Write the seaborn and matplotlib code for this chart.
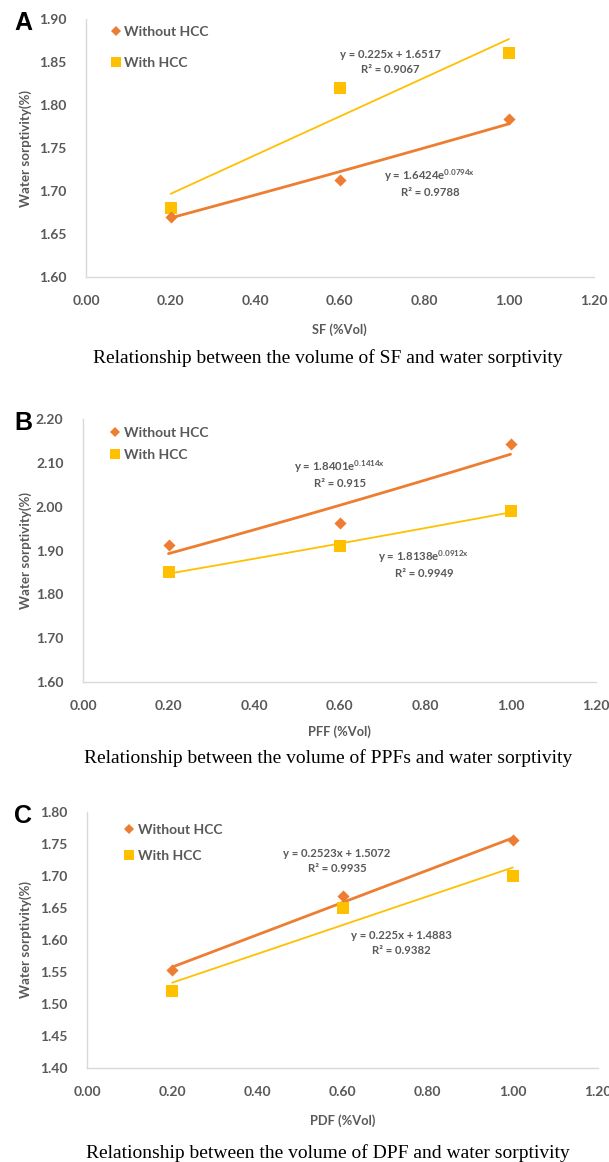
import numpy as np
import pandas as pd
import matplotlib
matplotlib.use("Agg")
import matplotlib.pyplot as plt
from matplotlib.lines import Line2D
import seaborn as sns

# ---- data -------------------------------------------------------------
fiber_vol = [0.20, 0.60, 1.00]

sf_without = [1.670, 1.713, 1.784]
sf_with = [1.680, 1.820, 1.860]

pff_without = [1.912, 1.963, 2.142]
pff_with = [1.850, 1.910, 1.990]

pdf_without = [1.553, 1.668, 1.756]
pdf_with = [1.520, 1.650, 1.700]

# trendline fits: (kind, a, b, r2) -> linear y = a*x + b, exponential y = a*exp(b*x)
sf_fit_without = ("exp", 1.6424, 0.0794, 0.9788)
sf_fit_with = ("lin", 0.225, 1.6517, 0.9067)
pff_fit_without = ("exp", 1.8401, 0.1414, 0.915)
pff_fit_with = ("exp", 1.8138, 0.0912, 0.9949)
pdf_fit_without = ("lin", 0.2523, 1.5072, 0.9935)
pdf_fit_with = ("lin", 0.225, 1.4883, 0.9382)

x_ticks = [0.00, 0.20, 0.40, 0.60, 0.80, 1.00, 1.20]
series_names = ["Without HCC", "With HCC"]
y_label = "Water sorptivity(%)"

# ---- style ------------------------------------------------------------
sns.set_style("white")
plt.rcParams["font.family"] = ["Lato", "DejaVu Sans"]
plt.rcParams["mathtext.default"] = "regular"

ORANGE = "#ED7D31"
GOLD = "#FFC000"
GRAY = "#595959"
SPINE = "#D9D9D9"

W, H = 609, 1162
fig = plt.figure(figsize=(W / 100, H / 100), dpi=100)


def fx(px):
    return px / W


def fy(py):
    return 1 - py / H


def fit_curve(fit, x):
    kind, a, b, _ = fit
    return a * np.exp(b * x) if kind == "exp" else a * x + b


def fit_label(fit):
    kind, a, b, r2 = fit
    if kind == "exp":
        eq = f"y = {a:.4f}e$^{{{b:.4f}x}}$"
    else:
        eq = f"y = {a:g}x + {b:.4f}"
    return eq + "\n" + f"R² = {r2:g}"


def panel(box, ylim, yticks, yfmt, without, with_, fit_wo, fit_w,
          letter, xlabel, caption, legend_top, legend_spacing,
          eq_wo, eq_w, xlabel_y, caption_y):
    left, right, top, bottom = box
    ax = fig.add_axes([fx(left), fy(bottom), fx(right - left), (bottom - top) / H])

    df = pd.DataFrame({
        "x": fiber_vol * 2,
        "y": list(without) + list(with_),
        "series": [series_names[0]] * 3 + [series_names[1]] * 3,
    })

    # trendlines across the measured range
    xs = np.linspace(min(fiber_vol), max(fiber_vol), 50)
    sns.lineplot(x=xs, y=fit_curve(fit_w, xs), color=GOLD, lw=1.3, ax=ax)
    sns.lineplot(x=xs, y=fit_curve(fit_wo, xs), color=ORANGE, lw=2.0, ax=ax)

    sns.scatterplot(data=df[df.series == series_names[1]], x="x", y="y",
                    marker="s", s=72, color=GOLD, linewidth=0, ax=ax, zorder=3)
    sns.scatterplot(data=df[df.series == series_names[0]], x="x", y="y",
                    marker="D", s=38, color=ORANGE, linewidth=0, ax=ax, zorder=4)

    ax.set_xlim(0, 1.2)
    ax.set_ylim(*ylim)
    ax.set_xticks(x_ticks)
    ax.set_xticklabels([f"{t:.2f}" for t in x_ticks])
    ax.set_yticks(yticks)
    ax.set_yticklabels([yfmt.format(t) for t in yticks])
    ax.tick_params(length=0, labelsize=10, labelcolor=GRAY)
    ax.tick_params(axis="x", pad=13)
    ax.tick_params(axis="y", pad=14)
    for lab in ax.get_xticklabels() + ax.get_yticklabels():
        lab.set_fontweight("bold")
    for s in ("top", "right"):
        ax.spines[s].set_visible(False)
    for s in ("left", "bottom"):
        ax.spines[s].set_color(SPINE)
        ax.spines[s].set_linewidth(1.0)
    ax.set_xlabel("")
    ax.set_ylabel("")

    # y label
    fig.text(fx(26), fy((top + bottom) / 2), y_label, rotation=90,
             ha="center", va="center", fontsize=9.6, fontweight="bold", color=GRAY)
    # x label
    fig.text(fx((left + right) / 2), fy(xlabel_y), xlabel, ha="center",
             va="center", fontsize=9.3, fontweight="bold", color=GRAY)
    # caption
    fig.text(fx(328), fy(caption_y), caption, ha="center", va="center",
             fontsize=14, family="Liberation Serif", color="black")
    # panel letter
    fig.text(fx(23), fy(top + 4), letter, ha="center",
             va="center", fontsize=18, fontweight="bold",
             family="Liberation Sans", color="black")

    # legend
    handles = [
        Line2D([], [], ls="none", marker="D", ms=5, color=ORANGE, mew=0),
        Line2D([], [], ls="none", marker="s", ms=7, color=GOLD, mew=0),
    ]
    leg = ax.legend(handles, series_names, loc="upper left",
                    bbox_to_anchor=(fx(legend_top[0]), fy(legend_top[1])),
                    bbox_transform=fig.transFigure, frameon=False,
                    handlelength=0.6, handletextpad=0.3, borderpad=0,
                    borderaxespad=0, labelspacing=legend_spacing,
                    prop={"family": "Lato", "weight": "bold", "size": 10})
    for t in leg.get_texts():
        t.set_color(GRAY)

    # trendline equations
    for (cx, cy), fit in ((eq_wo, fit_wo), (eq_w, fit_w)):
        fig.text(fx(cx), fy(cy), fit_label(fit), ha="center", va="center",
                 fontsize=8.2, fontweight="bold", color=GRAY, linespacing=1.35,
                 multialignment="center")
    return ax


panel((86, 593.6, 19, 277), (1.60, 1.90), np.arange(1.60, 1.901, 0.05), "{:.2f}",
      sf_without, sf_with, sf_fit_without, sf_fit_with,
      "A", "SF (%Vol)", "Relationship between the volume of SF and water sorptivity",
      (112, 26), 1.34, (430, 183), (390, 62), 330, 358)

panel((83, 596, 419, 682), (1.60, 2.20), np.arange(1.60, 2.201, 0.10), "{:.2f}",
      pff_without, pff_with, pff_fit_without, pff_fit_with,
      "B", "PFF (%Vol)", "Relationship between the volume of PPFs and water sorptivity",
      (111, 427), 0.74, (340, 474), (424, 564), 732, 758)

panel((87, 598, 812, 1068), (1.40, 1.80), np.arange(1.40, 1.801, 0.05), "{:.2f}",
      pdf_without, pdf_with, pdf_fit_without, pdf_fit_with,
      "C", "PDF (%Vol)", "Relationship between the volume of DPF and water sorptivity",
      (125, 824), 1.03, (337, 861), (401, 943), 1121, 1153)

fig.savefig("out.png", dpi=100, facecolor="white")
